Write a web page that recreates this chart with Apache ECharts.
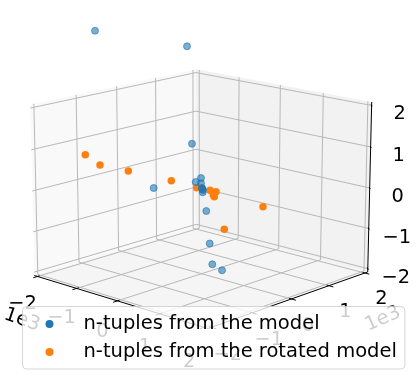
<!DOCTYPE html>
<html>
<head>
<meta charset="utf-8">
<style>
html, body { margin: 0; padding: 0; background: #fff; }
#main { width: 420px; height: 389px; }
</style>
<script src="https://cdn.jsdelivr.net/npm/echarts@6/dist/echarts.min.js"></script>
</head>
<body>
<div id="main"></div>
<script>
// points, in projected plot units
var modelU = [95, 187, 192, 153.7, 201, 195.7, 201, 202.3, 202.7, 202, 203, 206.3, 209.7, 212.3, 222];
var modelV = [30.7, 46.3, 143.7, 188, 178, 182, 183.3, 189, 192.3, 188, 190, 211, 243.5, 264.3, 270.3];
var rotatedU = [85.3, 100, 128.3, 171.3, 196.7, 201.7, 210, 213.3, 216, 214.3, 263, 224.3];
var rotatedV = [154.7, 165, 171, 180.7, 187.7, 188.3, 190.3, 195, 191.7, 196.7, 206.7, 229.3];

var xTicks = [-2, -1, 0, 1, 2];
var yTicks = [-2, -1, 0, 1, 2];
var zTicks = [-2, -1, 0, 1, 2];
var tickText = ['\u22122', '\u22121', '0', '1', '2'];
var offsetText = '1e3';
var names = ['n-tuples from the model', 'n-tuples from the rotated model'];

// camera, same maths as a default 3d axes
var elev = 15 * Math.PI / 180, azim = -47 * Math.PI / 180;
var dist = 10, focal = 1925, cx = 201.5, cy = 189.5;
var sxy = 1.1905 / 4, sz = 0.88 / 4;
var edge = 2.0833;

function project(x, y, z) {
    var px = x * sxy, py = y * sxy, pz = z * sz;
    var ca = Math.cos(azim), sa = Math.sin(azim), ce = Math.cos(elev), se = Math.sin(elev);
    var U = -sa * px + ca * py;
    var V = -se * ca * px - se * sa * py + ce * pz;
    var d = dist - (ce * ca * px + ce * sa * py + se * pz);
    return [cx + focal * U / d, cy - focal * V / d];
}

function seg(list, a, b) {
    var p = project(a[0], a[1], a[2]), q = project(b[0], b[1], b[2]);
    list.push([p[0], p[1], q[0], q[1]]);
}

var e = edge;
var panes = [
    { color: '#f9f9f9', pts: [[-e, -e, -e], [-e, e, -e], [-e, e, e], [-e, -e, e]] },
    { color: '#f2f2f2', pts: [[-e, e, -e], [e, e, -e], [e, e, e], [-e, e, e]] },
    { color: '#f5f5f5', pts: [[-e, -e, -e], [e, -e, -e], [e, e, -e], [-e, e, -e]] }
];

var gridSegs = [];
xTicks.forEach(function (t) {
    seg(gridSegs, [t, -e, -e], [t, e, -e]);
    seg(gridSegs, [t, e, -e], [t, e, e]);
});
yTicks.forEach(function (t) {
    seg(gridSegs, [e, t, -e], [-e, t, -e]);
    seg(gridSegs, [-e, t, -e], [-e, t, e]);
});
zTicks.forEach(function (t) {
    seg(gridSegs, [-e, -e, t], [-e, e, t]);
    seg(gridSegs, [-e, e, t], [e, e, t]);
});

var axisSegs = [];
seg(axisSegs, [-e, -e, -e], [e, -e, -e]);
seg(axisSegs, [e, -e, -e], [e, e, -e]);
seg(axisSegs, [e, e, -e], [e, e, e]);
xTicks.forEach(function (t) { seg(axisSegs, [t, -e - 0.1, -e], [t, -e + 0.05, -e]); });
yTicks.forEach(function (t) { seg(axisSegs, [e + 0.1, t, -e], [e - 0.05, t, -e]); });
zTicks.forEach(function (t) { seg(axisSegs, [e - 0.05, e + 0.05, t], [e + 0.05, e - 0.05, t]); });

var labels = [];
xTicks.forEach(function (t, i) {
    var p = project(t, -e, -e);
    labels.push([p[0] - 15, p[1] + 28 + (t + 2) * 1.6, tickText[i], 0]);
});
yTicks.forEach(function (t, i) {
    var p = project(e, t, -e);
    labels.push([p[0] + 16.5, p[1] + 28 - (t + 2) * 0.6, tickText[i], 0]);
});
zTicks.forEach(function (t, i) {
    var p = project(e, e, t);
    labels.push([p[0] + 28, p[1] + 9, tickText[i], 0]);
});
labels.push([22, 320, offsetText, -0.33]);
labels.push([383, 319, offsetText, 0.42]);

function zip(a, b) {
    return a.map(function (v, i) { return [v, b[i]]; });
}

function segRender(color, width) {
    return function (params, api) {
        var p = api.coord([api.value(0), api.value(1)]);
        var q = api.coord([api.value(2), api.value(3)]);
        return {
            type: 'line',
            shape: { x1: p[0], y1: p[1], x2: q[0], y2: q[1] },
            style: { stroke: color, lineWidth: width, fill: null }
        };
    };
}

var myChart = echarts.init(document.getElementById('main'), null, { renderer: 'canvas' });

var option = {
    animation: false,
    grid: { left: 0, right: 0, top: 0, bottom: 0 },
    xAxis: { type: 'value', min: 0, max: 420, show: false },
    yAxis: { type: 'value', min: 0, max: 389, inverse: true, show: false },
    legend: {
        left: 22.5,
        top: 306.5,
        orient: 'vertical',
        selectedMode: false,
        padding: [6.5, 8, 6, 23],
        itemGap: 6,
        itemWidth: 26,
        itemHeight: 8,
        icon: 'circle',
        backgroundColor: 'rgba(255,255,255,0.8)',
        borderColor: 'rgba(204,204,204,0.8)',
        borderWidth: 1,
        borderRadius: 4,
        textStyle: {
            fontFamily: 'DejaVu Sans',
            fontSize: 19.5,
            lineHeight: 20,
            color: '#000',
            padding: [2, 0, 0, 16]
        },
        data: [
            { name: names[0], itemStyle: { color: '#1f77b4', borderWidth: 0 } },
            { name: names[1], itemStyle: { color: '#ff7f0e', borderWidth: 0 } }
        ]
    },
    series: [
        {
            type: 'custom',
            silent: true,
            z: 1,
            clip: false,
            data: panes.map(function (p, i) { return [i]; }),
            renderItem: function (params, api) {
                var pane = panes[params.dataIndex];
                var points = pane.pts.map(function (c) {
                    var s = project(c[0], c[1], c[2]);
                    return api.coord(s);
                });
                return { type: 'polygon', shape: { points: points }, style: { fill: pane.color } };
            }
        },
        {
            type: 'custom',
            silent: true,
            z: 1,
            clip: false,
            data: gridSegs,
            renderItem: segRender('#b8b8b8', 1)
        },
        {
            type: 'custom',
            silent: true,
            z: 1,
            clip: false,
            data: axisSegs,
            renderItem: segRender('#000', 1)
        },
        {
            type: 'custom',
            silent: true,
            z: 1,
            clip: false,
            data: labels.map(function (l) { return [l[0], l[1]]; }),
            renderItem: function (params, api) {
                var l = labels[params.dataIndex];
                var p = api.coord([l[0], l[1]]);
                return {
                    type: 'text',
                    x: p[0],
                    y: p[1],
                    rotation: l[3],
                    style: {
                        text: l[2],
                        fill: '#000',
                        font: '19.4px "DejaVu Sans"',
                        align: 'center',
                        verticalAlign: 'middle'
                    }
                };
            }
        },
        {
            name: names[0],
            type: 'scatter',
            z: 3,
            symbolSize: 7,
            itemStyle: { color: 'rgba(31,119,180,0.6)', borderColor: 'rgba(31,119,180,0.6)', borderWidth: 1, opacity: 1 },
            data: zip(modelU, modelV)
        },
        {
            name: names[1],
            type: 'scatter',
            z: 2,
            symbolSize: 7.5,
            itemStyle: { color: '#ff7f0e', opacity: 1 },
            data: zip(rotatedU, rotatedV)
        }
    ]
};

myChart.setOption(option);
</script>
</body>
</html>
